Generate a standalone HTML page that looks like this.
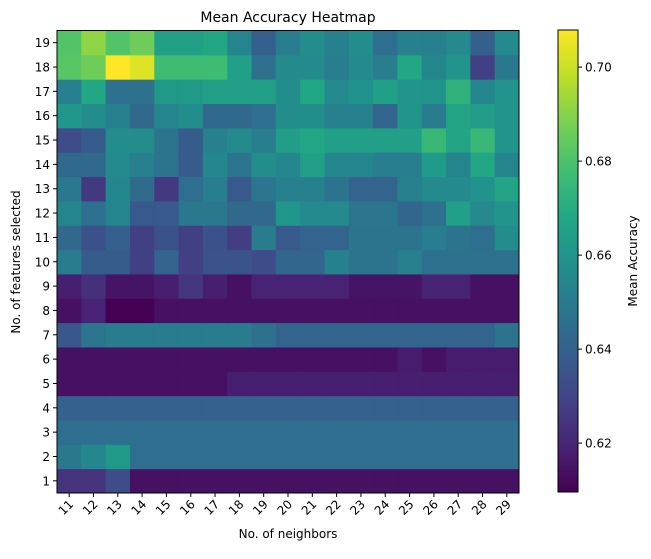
<!DOCTYPE html>
<html><head><meta charset="utf-8"><style>
body{margin:0;background:#fff;font-family:"Liberation Sans","DejaVu Sans",sans-serif;}
svg text{font-family:"DejaVu Sans","Liberation Sans",sans-serif;fill:#000}
</style></head><body>
<svg id="chart" width="651" height="554" xmlns="http://www.w3.org/2000/svg">
<g id="cells"></g>
<rect x="57" y="30.5" width="462" height="462.5" fill="none" stroke="#000" stroke-width="1"/>
<g id="axes"></g>
<text x="288" y="22" font-size="14" text-anchor="middle">Mean Accuracy Heatmap</text>
<text x="288" y="538" font-size="12" text-anchor="middle">No. of neighbors</text>
<text x="0" y="0" font-size="12" text-anchor="middle" transform="translate(20,262) rotate(-90)">No. of features selected</text>
<defs><linearGradient id="vg" x1="0" y1="1" x2="0" y2="0">
<stop offset="0" stop-color="#440154"/><stop offset="0.1" stop-color="#482475"/><stop offset="0.2" stop-color="#414487"/><stop offset="0.3" stop-color="#355f8d"/><stop offset="0.4" stop-color="#2a788e"/><stop offset="0.5" stop-color="#21918c"/><stop offset="0.6" stop-color="#22a884"/><stop offset="0.7" stop-color="#44bf70"/><stop offset="0.8" stop-color="#7ad151"/><stop offset="0.9" stop-color="#bddf26"/><stop offset="1" stop-color="#fde725"/>
</linearGradient></defs>
<rect x="558" y="30" width="20" height="462" fill="url(#vg)" stroke="#000" stroke-width="1"/>
<g id="cbticks"></g>
<text x="0" y="0" font-size="12" text-anchor="middle" transform="translate(637,261) rotate(-90)">Mean Accuracy</text>
</svg>
<script>
const neighbors=[11,12,13,14,15,16,17,18,19,20,21,22,23,24,25,26,27,28,29];
const features=[1,2,3,4,5,6,7,8,9,10,11,12,13,14,15,16,17,18,19];
const cbTicks=[0.62,0.64,0.66,0.68,0.70];
const row1=[0.624,0.624,0.632,0.614,0.614,0.614,0.614,0.614,0.614,0.614,0.614,0.614,0.614,0.614,0.614,0.614,0.614,0.614,0.614];
const row2=[0.649,0.655,0.662,0.645,0.645,0.645,0.645,0.645,0.645,0.645,0.645,0.645,0.645,0.645,0.645,0.645,0.645,0.645,0.645];
const row3=[0.645,0.645,0.645,0.645,0.645,0.645,0.645,0.645,0.645,0.645,0.645,0.645,0.645,0.645,0.645,0.645,0.645,0.645,0.645];
const row4=[0.640,0.640,0.640,0.640,0.640,0.640,0.640,0.640,0.640,0.640,0.640,0.640,0.640,0.640,0.640,0.640,0.640,0.640,0.640];
const row5=[0.614,0.614,0.614,0.614,0.614,0.614,0.614,0.618,0.618,0.618,0.618,0.618,0.618,0.618,0.618,0.618,0.618,0.618,0.618];
const row6=[0.614,0.614,0.614,0.614,0.614,0.614,0.614,0.614,0.614,0.614,0.614,0.614,0.614,0.614,0.617,0.614,0.617,0.617,0.617];
const row7=[0.636,0.648,0.650,0.650,0.650,0.650,0.650,0.650,0.646,0.641,0.641,0.641,0.641,0.641,0.641,0.641,0.641,0.641,0.647];
const row8=[0.614,0.619,0.6096,0.6096,0.614,0.614,0.614,0.614,0.614,0.614,0.614,0.614,0.614,0.614,0.614,0.614,0.614,0.614,0.614];
const row9=[0.618,0.623,0.615,0.615,0.618,0.625,0.618,0.614,0.619,0.619,0.619,0.619,0.615,0.615,0.615,0.619,0.619,0.614,0.614];
const row10=[0.650,0.638,0.638,0.628,0.641,0.628,0.635,0.635,0.632,0.642,0.642,0.652,0.647,0.647,0.652,0.646,0.646,0.646,0.646];
const row11=[0.643,0.634,0.639,0.628,0.634,0.628,0.634,0.627,0.650,0.637,0.641,0.641,0.647,0.647,0.647,0.651,0.647,0.645,0.657];
const row12=[0.654,0.645,0.654,0.637,0.637,0.649,0.649,0.643,0.643,0.661,0.656,0.656,0.648,0.648,0.642,0.646,0.665,0.656,0.660];
const row13=[0.649,0.626,0.655,0.644,0.626,0.645,0.651,0.637,0.648,0.652,0.652,0.647,0.641,0.641,0.652,0.656,0.656,0.659,0.667];
const row14=[0.643,0.643,0.656,0.652,0.647,0.638,0.655,0.648,0.657,0.655,0.665,0.655,0.655,0.651,0.651,0.663,0.654,0.668,0.654];
const row15=[0.632,0.638,0.657,0.657,0.647,0.638,0.652,0.656,0.651,0.664,0.668,0.665,0.665,0.665,0.665,0.675,0.667,0.675,0.660];
const row16=[0.661,0.657,0.652,0.643,0.654,0.657,0.643,0.643,0.645,0.657,0.657,0.652,0.652,0.641,0.660,0.650,0.667,0.664,0.660];
const row17=[0.652,0.668,0.646,0.646,0.662,0.662,0.665,0.665,0.665,0.657,0.668,0.656,0.659,0.665,0.660,0.660,0.673,0.655,0.660];
const row18=[0.682,0.686,0.708,0.703,0.677,0.677,0.677,0.665,0.646,0.656,0.656,0.651,0.656,0.651,0.668,0.654,0.660,0.628,0.649];
const row19=[0.681,0.691,0.681,0.686,0.665,0.665,0.668,0.654,0.639,0.651,0.657,0.652,0.657,0.645,0.652,0.652,0.656,0.639,0.656];
const values=[row1,row2,row3,row4,row5,row6,row7,row8,row9,row10,row11,row12,row13,row14,row15,row16,row17,row18,row19];

const vmin=0.6096,vmax=0.7079;
const X0=57,X1=519,Y0=30.5,Y1=493;
const cw=(X1-X0)/neighbors.length, ch=(Y1-Y0)/features.length;
function xPos(i){return X0+i*cw;}
function yPos(j){return Y1-(j+1)*ch;}
const CB0=30,CB1=492;
function cbY(v){return CB1-(v-vmin)/(vmax-vmin)*(CB1-CB0);}
const vir=["#440154","#482475","#414487","#355f8d","#2a788e","#21918c","#22a884","#44bf70","#7ad151","#bddf26","#fde725"];
function hex(h){return [1,3,5].map(k=>parseInt(h.substr(k,2),16));}
function color(v){let f=Math.max(0,Math.min(1,(v-vmin)/(vmax-vmin)))*10;let i=Math.min(9,Math.floor(f));let t=f-i;let a=hex(vir[i]),b=hex(vir[i+1]);return "rgb("+a.map((c,k)=>Math.round(c+(b[k]-c)*t)).join(",")+")";}
const NS="http://www.w3.org/2000/svg";
const cells=document.getElementById('cells');
values.forEach((row,j)=>row.forEach((v,i)=>{
 const r=document.createElementNS(NS,'rect');
 
 
 r.setAttribute('x',xPos(i));r.setAttribute('y',yPos(j));
 r.setAttribute('width',cw+0.5);r.setAttribute('height',ch+0.5);
 r.setAttribute('fill',color(v));
 cells.appendChild(r);
}));
const axes=document.getElementById('axes');
neighbors.forEach((n,i)=>{
 const cx=xPos(i)+cw/2;
 const l=document.createElementNS(NS,'line');
 
 
 l.setAttribute('x1',cx);l.setAttribute('x2',cx);l.setAttribute('y1',Y1);l.setAttribute('y2',Y1+4);l.setAttribute('stroke','#000');
 axes.appendChild(l);
 const t=document.createElementNS(NS,'text');
 
 
 t.setAttribute('font-size','12');t.setAttribute('text-anchor','end');
 t.setAttribute('transform','translate('+(cx+5)+','+(Y1+12)+') rotate(-45)');
 t.textContent=n;axes.appendChild(t);
});
features.forEach((f,j)=>{
 const cy=yPos(j)+ch/2;
 const l=document.createElementNS(NS,'line');
 
 
 l.setAttribute('x1',X0-4);l.setAttribute('x2',X0);l.setAttribute('y1',cy);l.setAttribute('y2',cy);l.setAttribute('stroke','#000');
 axes.appendChild(l);
 const t=document.createElementNS(NS,'text');
 
 
 t.setAttribute('font-size','12');t.setAttribute('text-anchor','end');
 t.setAttribute('x',X0-7);t.setAttribute('y',cy+4.5);
 t.textContent=f;axes.appendChild(t);
});
const cbt=document.getElementById('cbticks');
cbTicks.forEach(v=>{
 const y=cbY(v);
 const l=document.createElementNS(NS,'line');
 
 
 l.setAttribute('x1',578);l.setAttribute('x2',582);l.setAttribute('y1',y);l.setAttribute('y2',y);l.setAttribute('stroke','#000');
 cbt.appendChild(l);
 const t=document.createElementNS(NS,'text');
 
 
 t.setAttribute('font-size','12');t.setAttribute('x',585);t.setAttribute('y',y+4.5);
 t.textContent=v.toFixed(2);cbt.appendChild(t);
});
</script>
</body></html>
